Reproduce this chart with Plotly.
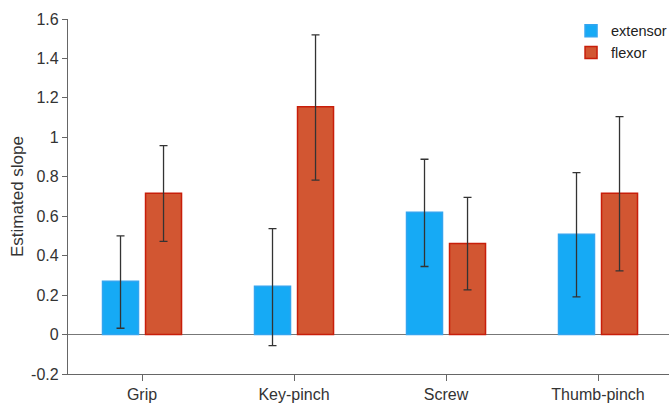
import plotly.graph_objects as go

categories = ["Grip", "Key-pinch", "Screw", "Thumb-pinch"]
extensor = [0.27, 0.245, 0.62, 0.508]
extensor_lo = [0.032, -0.056, 0.345, 0.191]
extensor_hi = [0.50, 0.537, 0.889, 0.821]
flexor = [0.716, 1.155, 0.462, 0.716]
flexor_lo = [0.472, 0.783, 0.227, 0.323]
flexor_hi = [0.958, 1.52, 0.696, 1.105]

def err(v, lo, hi):
    return dict(type="data", symmetric=False,
                array=[h - x for x, h in zip(v, hi)],
                arrayminus=[x - l for x, l in zip(v, lo)],
                color="#333333", thickness=1.3, width=4)

fig = go.Figure()
fig.add_trace(go.Bar(
    name="extensor", x=categories, y=extensor,
    marker=dict(color="rgb(22,170,245)", line=dict(color="rgb(50,165,240)", width=1.5)),
    error_y=err(extensor, extensor_lo, extensor_hi),
))
fig.add_trace(go.Bar(
    name="flexor", x=categories, y=flexor,
    marker=dict(color="rgb(210,86,50)", line=dict(color="rgb(200,30,10)", width=1.5)),
    error_y=err(flexor, flexor_lo, flexor_hi),
))

fig.update_layout(
    width=669, height=405,
    margin=dict(l=68, r=0, t=19, b=31, autoexpand=False),
    paper_bgcolor="white", plot_bgcolor="white",
    barmode="group", bargap=0.434, bargroupgap=0.163,
    font=dict(family="Liberation Sans, Arial, sans-serif", size=16, color="#333333"),
    showlegend=True,
    legend=dict(x=0.837, y=1.012, xanchor="left", yanchor="top",
                font=dict(size=14.5, color="#222222"), bgcolor="rgba(0,0,0,0)",
                tracegroupgap=0, itemwidth=30),
    xaxis=dict(range=[-0.487, 3.467], showline=True, linecolor="#666666", linewidth=1.2,
               ticks="outside", ticklen=6, tickcolor="#666666", showgrid=False,
               tickfont=dict(size=16, color="#333333")),
    yaxis=dict(range=[-0.2, 1.6], tickvals=[-0.2, 0, 0.2, 0.4, 0.6, 0.8, 1, 1.2, 1.4, 1.6],
               ticktext=["-0.2", "0", "0.2", "0.4", "0.6", "0.8", "1", "1.2", "1.4", "1.6"],
               showline=True, linecolor="#666666", linewidth=1.2,
               ticks="outside", ticklen=5, tickcolor="#666666", showgrid=False,
               zeroline=True, zerolinecolor="#777777", zerolinewidth=1.2,
               title=dict(text="Estimated slope", font=dict(size=17, color="#333333"), standoff=3),
               tickfont=dict(size=16, color="#333333")),
)

fig.write_html("out.html", config={"displayModeBar": False},
               post_script="document.body.style.margin='0';document.body.style.overflow='hidden';")
